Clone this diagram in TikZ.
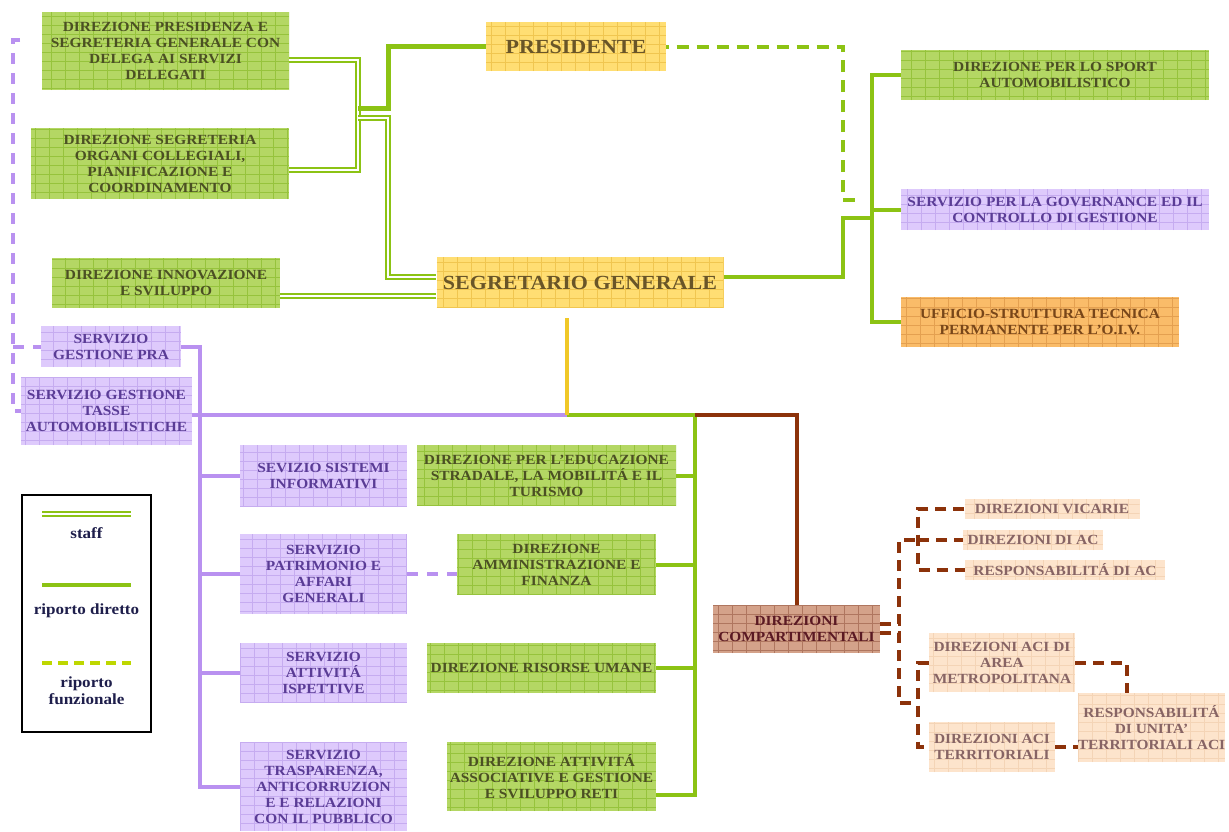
\documentclass[tikz,border=0pt]{standalone}
\usepackage{fontspec}
\setmainfont{Liberation Serif}[FakeStretch=1.1]
\definecolor{lgreen}{RGB}{140,195,20}
\definecolor{lpurple}{RGB}{185,145,240}
\definecolor{lbrown}{RGB}{140,50,10}
\definecolor{lyellow}{RGB}{240,200,40}
\definecolor{llime}{RGB}{190,215,0}
\definecolor{gfill}{RGB}{180,215,100}
\definecolor{ggrid}{RGB}{150,195,60}
\definecolor{gtext}{RGB}{75,80,35}
\definecolor{yfill}{RGB}{255,222,115}
\definecolor{ygrid}{RGB}{240,198,80}
\definecolor{ytext}{RGB}{105,85,40}
\definecolor{pfill}{RGB}{222,202,252}
\definecolor{pgrid}{RGB}{198,172,240}
\definecolor{ptext}{RGB}{90,60,150}
\definecolor{ofill}{RGB}{250,188,105}
\definecolor{ogrid}{RGB}{228,160,80}
\definecolor{otext}{RGB}{120,70,25}
\definecolor{cfill}{RGB}{212,162,138}
\definecolor{cgrid}{RGB}{175,118,95}
\definecolor{ctext}{RGB}{90,25,35}
\definecolor{efill}{RGB}{253,228,204}
\definecolor{egrid}{RGB}{244,212,182}
\definecolor{etext}{RGB}{135,100,100}
\definecolor{legtext}{RGB}{30,30,75}
\begin{document}
\begin{tikzpicture}[x=1pt, y=-1pt, font=\bfseries\fontsize{14}{16}\selectfont,
  paper/.style 2 args={fill=#1, align=center, inner sep=0pt,
    path picture={\draw[#2, line width=0.6pt, xstep=14pt, ystep=9pt]
      (path picture bounding box.south west) grid (path picture bounding box.north east);}},
  gbox/.style={paper={gfill}{ggrid}, text=gtext},
  ybox/.style={paper={yfill}{ygrid}, text=ytext, font=\bfseries\fontsize{20}{22}\selectfont},
  pbox/.style={paper={pfill}{pgrid}, text=ptext},
  obox/.style={paper={ofill}{ogrid}, text=otext},
  cbox/.style={paper={cfill}{cgrid}, text=ctext},
  ebox/.style={paper={efill}{egrid}, text=etext},
  size/.style 2 args={minimum width=#1pt, minimum height=#2pt},
  staff/.style={draw=lgreen, line width=2pt, double=white, double distance=2pt},
  direct/.style={draw=lgreen, line width=4pt},
  func/.style={draw=lgreen, line width=4pt, dash pattern=on 12pt off 8pt},
  pline/.style={draw=lpurple, line width=4pt},
  pdash/.style={draw=lpurple, line width=4pt, dash pattern=on 11pt off 9pt},
  bline/.style={draw=lbrown, line width=4pt},
  bdash/.style={draw=lbrown, line width=4pt, dash pattern=on 11pt off 7pt},
  yline/.style={draw=lyellow, line width=4pt},
  legtext/.style={text=legtext, font=\bfseries\fontsize{15.5}{17}\selectfont, align=center}]
\path[use as bounding box, fill=white] (0,0) rectangle (1229,831);

% top
\node[gbox, size={247}{78}] (dirpres) at (165.5,51) {DIREZIONE PRESIDENZA E\\SEGRETERIA GENERALE CON\\DELEGA AI SERVIZI\\DELEGATI};
\node[gbox, size={258}{71}] (dirorg) at (160,163.5) {DIREZIONE SEGRETERIA\\ORGANI COLLEGIALI,\\PIANIFICAZIONE E\\COORDINAMENTO};
\node[gbox, size={228}{50}] (dirinn) at (166,283) {DIREZIONE INNOVAZIONE\\E SVILUPPO};
\node[ybox, size={180}{49}] (pres) at (576,46.5) {PRESIDENTE};
\node[ybox, size={287}{51}] (segr) at (580,282.5) {SEGRETARIO GENERALE};
\node[gbox, size={308}{50}] (sport) at (1055,75) {DIREZIONE PER LO SPORT\\AUTOMOBILISTICO};
\node[pbox, size={308}{41}] (gov) at (1055,209.5) {SERVIZIO PER LA GOVERNANCE ED IL\\CONTROLLO DI GESTIONE};
\node[obox, size={278}{50}] (oiv) at (1040,322) {UFFICIO-STRUTTURA TECNICA\\PERMANENTE PER L'O.I.V.};

% servizi
\node[pbox, size={140}{41}] (pra) at (111,346.5) {SERVIZIO\\GESTIONE PRA};
\node[pbox, size={171}{68}] (tasse) at (106.5,411) {SERVIZIO GESTIONE\\TASSE\\AUTOMOBILISTICHE};
\node[pbox, size={167}{62}] (sistemi) at (323.5,476) {SEVIZIO SISTEMI\\INFORMATIVI};
\node[pbox, size={167}{80}] (patrim) at (323.5,574) {SERVIZIO\\PATRIMONIO E\\AFFARI\\GENERALI};
\node[pbox, size={167}{60}] (ispett) at (323.5,673) {SERVIZIO\\ATTIVITÁ\\ISPETTIVE};
\node[pbox, size={167}{89}] (traspar) at (323.5,786.5) {SERVIZIO\\TRASPARENZA,\\ANTICORRUZION\\E E RELAZIONI\\CON IL PUBBLICO};

% direzioni
\node[gbox, size={259}{61}] (educ) at (546.5,475.5) {DIREZIONE PER L'EDUCAZIONE\\STRADALE, LA MOBILITÁ E IL\\TURISMO};
\node[gbox, size={199}{61}] (ammin) at (556.5,564.5) {DIREZIONE\\AMMINISTRAZIONE E\\FINANZA};
\node[gbox, size={229}{50}] (risorse) at (541.5,668) {DIREZIONE RISORSE UMANE};
\node[gbox, size={209}{69}] (assoc) at (551.5,776.5) {DIREZIONE ATTIVITÁ\\ASSOCIATIVE E GESTIONE\\E SVILUPPO RETI};

% compartimentali
\node[cbox, size={167}{48}] (comp) at (796.5,629) {DIREZIONI\\COMPARTIMENTALI};
\node[ebox, size={175}{20}] (vicarie) at (1052,509) {DIREZIONI VICARIE};
\node[ebox, size={140}{20}] (dirac) at (1033,540) {DIREZIONI DI AC};
\node[ebox, size={200}{20}] (respac) at (1065,570) {RESPONSABILITÁ DI AC};
\node[ebox, size={146}{59}] (metro) at (1002,662.5) {DIREZIONI ACI DI\\AREA\\METROPOLITANA};
\node[ebox, size={126}{50}] (territ) at (992,747) {DIREZIONI ACI\\TERRITORIALI};
\node[ebox, size={147}{69}] (unita) at (1151.5,727.5) {RESPONSABILITÁ\\DI UNITA'\\TERRITORIALI ACI};

% legend
\node[draw=black, line width=1.5pt, size={129}{237}] (legend) at (86.5,613.5) {};
\node[legtext] (lstaff) at (86.5,533) {staff};
\node[legtext] (ldir) at (86.5,611) {riporto diretto};
\node[legtext] (lfun) at (86.5,691) {riporto\\funzionale};
\draw[staff] (42,514) -- (131,514);
\draw[direct] (42,585) -- (131,585);
\draw[direct, draw=llime, dash pattern=on 10pt off 6pt] (42,663) -- (131,663);

% staff and top lines
\coordinate (sj) at (358,108);
\coordinate (sj2) at (388,118);
\draw[staff] ([yshift=-9pt]dirpres.east) -| (sj);
\draw[staff] ([yshift=-6.5pt]dirorg.east) -| (sj);
\draw[staff] (sj |- sj2) -- (sj2) |- ([yshift=5.5pt]segr.west);
\coordinate (ie) at ([yshift=-13pt]dirinn.east);
\draw[staff] (ie) -- (ie -| segr.west);
\draw[direct, line width=5pt] (sj) -- (sj2 |- sj) |- (pres.west);
\coordinate (fe) at (857,200);
\draw[func, dash phase=9.5pt] (pres.east) -| ([xshift=-14pt]fe) -- (fe);
\coordinate (sg) at (843,218);
\coordinate (rb) at (872,0);
\draw[direct] ([yshift=5.5pt]segr.east) -| (sg) -- (sg -| rb);
\draw[direct] (sport.west) -| (rb |- oiv.west) -- (oiv.west);
\draw[direct] (rb |- gov.west) -- (gov.west);

% central lines
\coordinate (hub) at (567,415);
\coordinate (pb) at (200,0);
\coordinate (gb) at (695,415);
\draw[pline] (hub) -- (hub -| tasse.east);
\draw[pline] (pra.east) -| (pb |- traspar.west) -- (traspar.west);
\foreach \n in {sistemi,patrim,ispett}
  \draw[pline] (pb |- \n.west) -- (\n.west);
\draw[direct] (hub) -- (gb) |- ([yshift=-18pt]assoc.east);
\foreach \n in {educ,ammin,risorse}
  \draw[direct] (gb |- \n.east) -- (\n.east);
\draw[bline] (gb) -| (comp.north);
\draw[yline, shorten <=10pt] (segr.south -| hub) -- (hub);

% functional (dashed)
\coordinate (ptop) at (20,40);
\coordinate (pl) at (13,0);
\draw[pdash] (ptop) -| (pl |- tasse.west) -- (tasse.west);
\draw[pdash] (pl |- pra.west) -- (pra.west);
\draw[pdash] (patrim.east) -- (patrim.east -| ammin.west);
\coordinate (cb) at (899,0);
\coordinate (cu) at (918,0);
\coordinate (cl) at (918,703);
\draw[bdash] ([yshift=5pt]comp.east) -| (cb |- dirac.west) -- (cu |- dirac.west);
\draw[bdash] ([yshift=-4pt]comp.east) -| (cb |- cl) -- (cl);
\draw[bdash] (vicarie.west) -| (cu |- respac.west) -- (respac.west);
\draw[bdash] (cu |- dirac.west) -- (dirac.west);
\draw[bdash] (metro.west) -| (cu |- territ.west) -- (territ.west);
\draw[bdash] (metro.east) -| ([xshift=-25pt]unita.north);
\draw[bdash] (territ.east) -- (territ.east -| unita.west);
\end{tikzpicture}
\end{document}
